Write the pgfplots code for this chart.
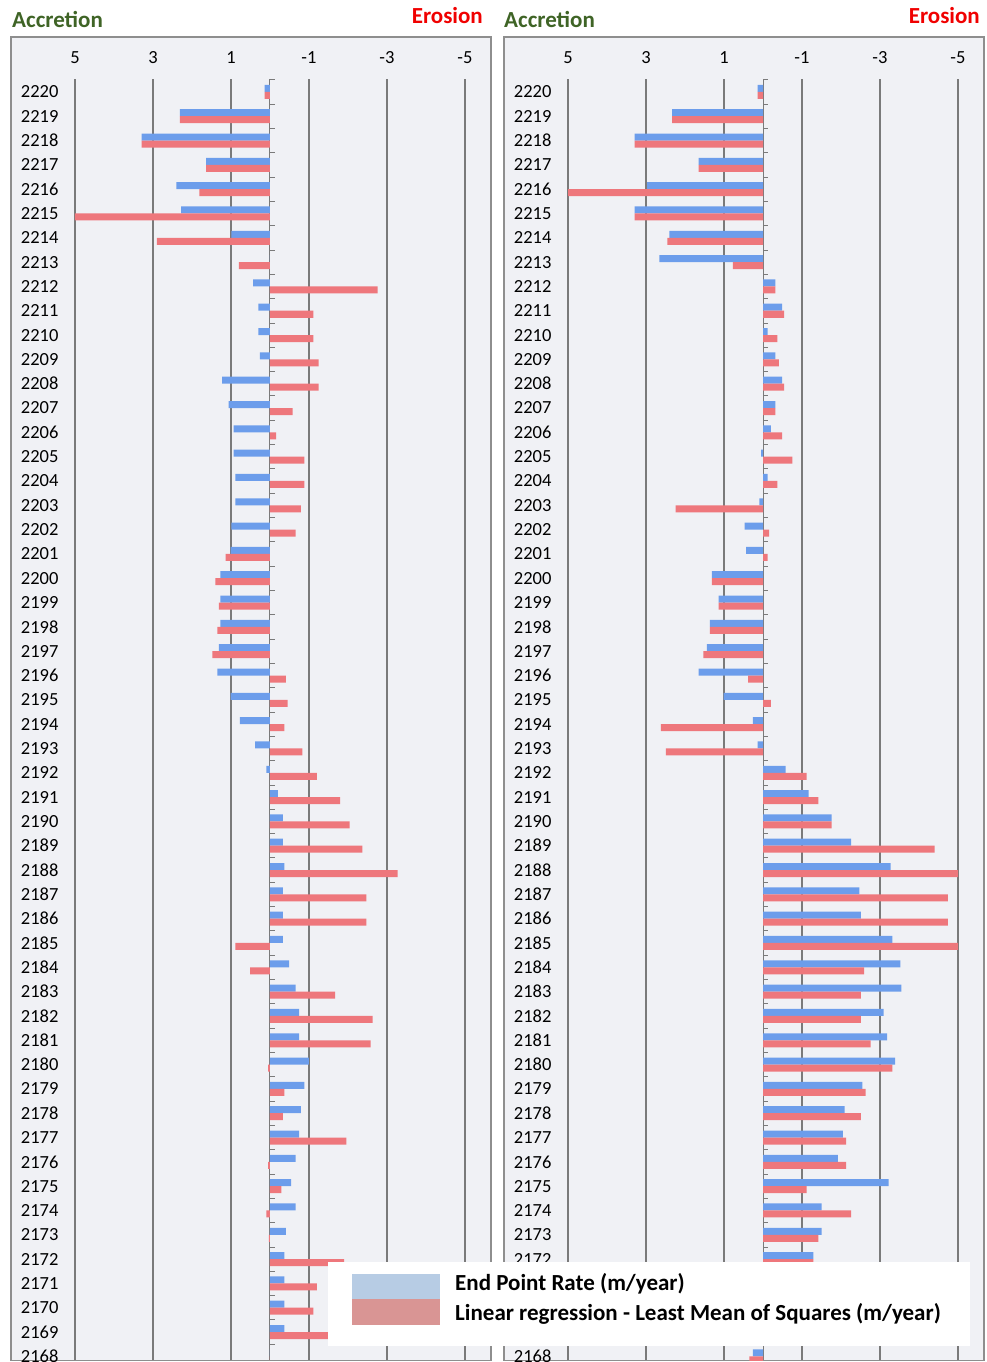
\documentclass[border=0pt]{standalone}
\usepackage{fontspec}
\setmainfont{Carlito}
\usepackage{pgfplots}
\pgfplotsset{compat=1.18}
\usepackage{pgfplotstable}

\definecolor{barblue}{HTML}{6C9DEB}
\definecolor{barred}{HTML}{EE777C}
\definecolor{legblue}{HTML}{B7CCE4}
\definecolor{legred}{HTML}{D99594}
\definecolor{panelbg}{HTML}{F0F1F5}
\definecolor{framegray}{HTML}{8E8E8E}
\definecolor{gridgray}{HTML}{7A7A7A}
\definecolor{accgreen}{HTML}{3F6426}
\definecolor{erored}{HTML}{F00000}

\pgfplotstableread{
y    Lepr   Llms   Repr   Rlms
2220 0.14   0.14   0.14   0.14
2219 2.31   2.31   2.33   2.33
2218 3.29   3.29   3.29   3.29
2217 1.64   1.64   1.65   1.65
2216 2.40   1.81   2.97   5.00
2215 2.28   5.00   3.29   3.29
2214 0.99   2.90   2.40   2.45
2213 0.00   0.80   2.66   0.77
2212 0.43  -2.76  -0.32  -0.32
2211 0.30  -1.11  -0.49  -0.54
2210 0.30  -1.11  -0.12  -0.37
2209 0.26  -1.25  -0.32  -0.41
2208 1.23  -1.25  -0.49  -0.54
2207 1.06  -0.58  -0.32  -0.32
2206 0.93  -0.16  -0.20  -0.49
2205 0.93  -0.88   0.05  -0.75
2204 0.89  -0.88  -0.12  -0.37
2203 0.89  -0.79   0.09   2.24
2202 0.99  -0.66   0.47  -0.16
2201 1.01   1.14   0.43  -0.12
2200 1.27   1.40   1.31   1.31
2199 1.27   1.31   1.14   1.14
2198 1.27   1.35   1.36   1.36
2197 1.31   1.48   1.44   1.53
2196 1.35  -0.41   1.65   0.38
2195 1.01  -0.45   1.01  -0.20
2194 0.77  -0.37   0.26   2.62
2193 0.38  -0.83   0.14   2.49
2192 0.09  -1.20  -0.58  -1.12
2191 -0.20 -1.80  -1.17  -1.42
2190 -0.33 -2.04  -1.76  -1.76
2189 -0.33 -2.37  -2.26  -4.40
2188 -0.37 -3.27  -3.27  -5.00
2187 -0.33 -2.47  -2.47  -4.74
2186 -0.33 -2.47  -2.51  -4.74
2185 -0.33  0.89  -3.32  -5.00
2184 -0.49  0.51  -3.52  -2.59
2183 -0.66 -1.67  -3.55  -2.51
2182 -0.75 -2.63  -3.09  -2.51
2181 -0.75 -2.58  -3.18  -2.76
2180 -1.00  0.05  -3.39  -3.32
2179 -0.88 -0.37  -2.55  -2.63
2178 -0.79 -0.33  -2.09  -2.51
2177 -0.75 -1.96  -2.05  -2.13
2176 -0.66  0.05  -1.92  -2.13
2175 -0.54 -0.29  -3.22  -1.12
2174 -0.66  0.09  -1.50  -2.26
2173 -0.41  0.03  -1.50  -1.42
2172 -0.37 -1.90  -1.29  -1.29
2171 -0.37 -1.20  -1.10  -1.30
2170 -0.37 -1.11  -1.00  -1.20
2169 -0.37 -1.80  -0.90  -1.10
2168 0.00   0.00   0.26   0.35
}\data

\pgfplotsset{panel/.style={
  scale only axis, width=390pt, height=1281pt,
  x dir=reverse, xmin=-5, xmax=5, ymin=-0.15, ymax=52.53,
  xtick={5,3,1,-1,-3,-5}, xticklabels={5,3,1,-1,-3,-5},
  xticklabel pos=upper,
  ytick={0,...,52},
  yticklabel={\pgfmathtruncatemacro\yr{\tick+2168.2}\yr},
  xmajorgrids, major grid style={gridgray, line width=1.3pt},
  axis line style={draw=none}, major tick length=0pt,
  tick label style={font=\fontsize{18.5}{20}\selectfont, text=black},
  xticklabel style={yshift=12pt},
  yticklabel style={xshift=-13pt},
  xbar, bar width=7pt,
}}

\begin{document}
\begin{tikzpicture}[x=1pt,y=1pt]
\useasboundingbox (0,0) rectangle (987,-1362);
\fill[panelbg] (11,-37) rectangle (491,-1360.5);
\draw[framegray, line width=1.5pt] (11,-37) rectangle (491,-1360.5);
\fill[panelbg] (504,-37) rectangle (984,-1360.5);
\draw[framegray, line width=1.5pt] (504,-37) rectangle (984,-1360.5);

\node[anchor=base west, inner sep=0, font=\fontsize{23}{25}\selectfont\bfseries, text=accgreen] at (12,-28) {Accretion};
\node[anchor=base east, inner sep=0, font=\fontsize{23}{25}\selectfont\bfseries, text=erored] at (483,-24) {Erosion};
\node[anchor=base west, inner sep=0, font=\fontsize{23}{25}\selectfont\bfseries, text=accgreen] at (504,-28) {Accretion};
\node[anchor=base east, inner sep=0, font=\fontsize{23}{25}\selectfont\bfseries, text=erored] at (980,-24) {Erosion};

\begin{axis}[panel, at={(75pt,-1360pt)}, anchor=south west]
\draw[gridgray, line width=1pt] (axis cs:0,-0.15) -- (axis cs:0,52.53);
\pgfplotsinvokeforeach{0,...,53}{\draw[gridgray, line width=0.8pt] (axis cs:0,#1-0.5) -- ([xshift=5pt]axis cs:0,#1-0.5);}
\addplot[fill=barblue, draw=none, bar shift=3.5pt] table[x=Lepr, y expr=\thisrow{y}-2168]{\data};
\addplot[fill=barred, draw=none, bar shift=-3.5pt] table[x=Llms, y expr=\thisrow{y}-2168]{\data};
\end{axis}

\begin{axis}[panel, at={(568pt,-1360pt)}, anchor=south west]
\draw[gridgray, line width=1pt] (axis cs:0,-0.15) -- (axis cs:0,52.53);
\pgfplotsinvokeforeach{0,...,53}{\draw[gridgray, line width=0.8pt] (axis cs:0,#1-0.5) -- ([xshift=5pt]axis cs:0,#1-0.5);}
\addplot[fill=barblue, draw=none, bar shift=3.5pt] table[x=Repr, y expr=\thisrow{y}-2168]{\data};
\addplot[fill=barred, draw=none, bar shift=-3.5pt] table[x=Rlms, y expr=\thisrow{y}-2168]{\data};
\end{axis}

\fill[white] (328,-1262) rectangle (970,-1346);
\fill[legblue] (352,-1274) rectangle (440,-1299);
\fill[legred] (352,-1299) rectangle (440,-1325);
\node[anchor=west, inner sep=0, font=\fontsize{23}{25}\selectfont\bfseries] at (455,-1284) {End Point Rate (m/year)};
\node[anchor=west, inner sep=0, font=\fontsize{23}{25}\selectfont\bfseries] at (455,-1314) {Linear regression - Least Mean of Squares (m/year)};
\end{tikzpicture}
\end{document}
